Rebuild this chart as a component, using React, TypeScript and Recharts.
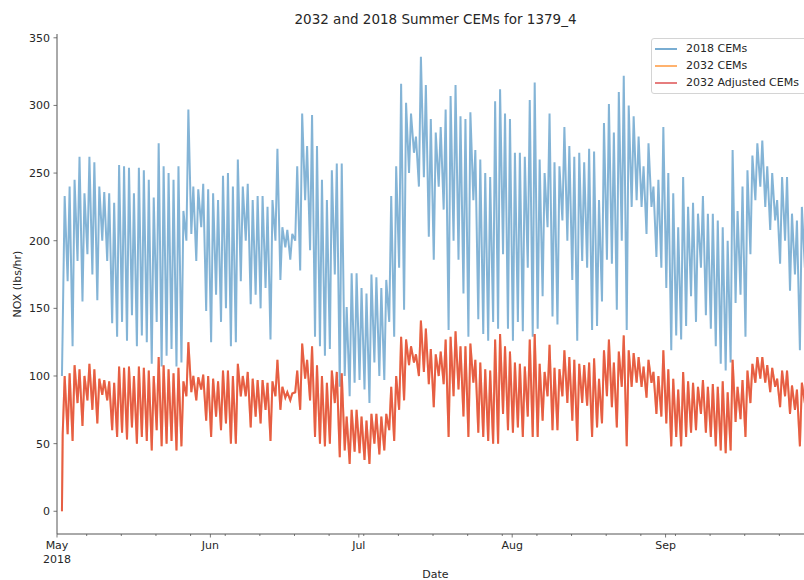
import { LineChart, Line, XAxis, YAxis, Legend } from "recharts"

// day offsets from May 1 2018
const monthTicks = [0, 31, 61, 92, 123]
const monthLabels = ["May\n2018", "Jun", "Jul", "Aug", "Sep"]
const weekTicks = [6, 13, 20, 27, 34, 41, 48, 55, 62, 69, 76, 83, 90, 97, 104, 111, 118, 125, 132, 139, 146]
const yTicks = [0, 50, 100, 150, 200, 250, 300, 350]
const seriesNames = ["2018 CEMs", "2032 CEMs", "2032 Adjusted CEMs"]

const firstDay = 1
const start2018 = 100
const start2032 = 0

// daily peaks / troughs, May 2 .. Sep 30
const high2018 = [
  233, 240, 245, 262, 235, 262, 258, 240, 236, 235,
  228, 256, 255, 254, 235, 254, 252, 245, 232, 272,
  255, 250, 245, 255, 222, 297, 240, 238, 242, 238,
  235, 230, 248, 250, 240, 260, 240, 242, 230, 233,
  233, 225, 230, 268, 210, 208, 205, 255, 294, 270,
  293, 270, 245, 230, 252, 257, 257, 151, 176, 176,
  165, 161, 175, 173, 165, 171, 233, 255, 316, 302,
  294, 277, 336, 315, 290, 280, 284, 297, 307, 315,
  292, 290, 295, 267, 260, 250, 247, 303, 312, 294,
  290, 265, 265, 262, 304, 317, 260, 250, 294, 258,
  255, 284, 270, 262, 265, 258, 268, 266, 230, 287,
  301, 280, 310, 322, 300, 292, 277, 255, 272, 240,
  245, 284, 250, 235, 210, 247, 225, 228, 220, 233,
  220, 220, 215, 210, 200, 267, 222, 240, 252, 263,
  272, 274, 255, 250, 230, 247, 247, 220, 215, 225,
  210, 205,
]
const low2018 = [
  135, 170, 122, 185, 155, 190, 175, 156, 200, 185,
  139, 129, 140, 126, 145, 122, 130, 125, 109, 140,
  107, 115, 120, 107, 110, 200, 205, 185, 210, 148,
  125, 160, 140, 150, 122, 125, 170, 200, 153, 160,
  150, 165, 127, 200, 171, 195, 186, 200, 178, 230,
  193, 129, 122, 115, 120, 175, 92, 100, 85, 95,
  97, 90, 80, 110, 100, 97, 140, 129, 180, 149,
  250, 265, 240, 247, 203, 186, 240, 223, 134, 200,
  186, 161, 129, 230, 142, 131, 126, 140, 135, 190,
  135, 126, 140, 133, 180, 129, 135, 159, 210, 144,
  138, 215, 200, 171, 126, 185, 180, 134, 137, 155,
  186, 183, 149, 200, 134, 225, 230, 225, 205, 225,
  188, 180, 165, 119, 130, 127, 137, 159, 140, 180,
  145, 135, 122, 109, 104, 110, 154, 160, 129, 190,
  230, 240, 225, 208, 215, 183, 200, 163, 175, 119,
  180, 150,
]
const high2032 = [
  100, 102, 108, 105, 100, 109, 105, 98, 97, 96,
  95, 107, 106, 107, 100, 107, 106, 104, 100, 114,
  108, 105, 102, 106, 96, 125, 100, 99, 101, 100,
  98, 96, 104, 104, 100, 109, 100, 103, 98, 97,
  97, 95, 96, 112, 92, 88, 87, 104, 124, 112,
  122, 108, 100, 95, 104, 103, 102, 70, 75, 75,
  70, 67, 72, 72, 70, 72, 92, 100, 129, 127,
  122, 116, 141, 135, 120, 116, 118, 127, 129, 133,
  122, 122, 124, 112, 110, 105, 104, 127, 131, 122,
  118, 110, 109, 107, 127, 131, 109, 103, 123, 106,
  105, 119, 114, 112, 109, 108, 110, 113, 98, 119,
  127, 110, 118, 130, 119, 117, 114, 107, 112, 103,
  100, 119, 105, 98, 90, 103, 96, 95, 92, 97,
  92, 94, 92, 96, 88, 112, 92, 97, 104, 109,
  114, 114, 108, 106, 98, 104, 104, 93, 90, 95,
  90, 88,
]
const low2032 = [
  57, 57, 52, 80, 63, 82, 75, 65, 86, 82,
  60, 55, 58, 53, 62, 50, 55, 52, 45, 60,
  48, 50, 52, 45, 48, 85, 88, 82, 90, 67,
  55, 70, 60, 65, 50, 50, 85, 85, 62, 70,
  65, 75, 52, 85, 75, 84, 82, 88, 75, 98,
  82, 55, 50, 48, 50, 80, 40, 45, 35, 44,
  43, 38, 35, 50, 42, 45, 60, 52, 75, 82,
  108, 110, 100, 103, 94, 77, 100, 94, 55, 85,
  90, 70, 55, 95, 58, 55, 52, 50, 50, 72,
  60, 58, 62, 55, 70, 55, 55, 67, 85, 60,
  60, 85, 80, 67, 52, 80, 78, 55, 62, 65,
  85, 77, 62, 92, 48, 92, 95, 92, 84, 95,
  72, 70, 65, 48, 55, 48, 55, 58, 60, 72,
  58, 55, 48, 45, 43, 45, 66, 68, 55, 80,
  95, 98, 95, 88, 92, 77, 85, 72, 75, 48,
  80, 65,
]

const data = [{ t: firstDay, cems2018: start2018, cems2032: start2032, adj2032: start2032 }]
high2018.forEach((h, i) => {
  data.push({ t: firstDay + i + 0.15, cems2018: low2018[i], cems2032: low2032[i], adj2032: low2032[i] })
  data.push({ t: firstDay + i + 0.55, cems2018: h, cems2032: high2032[i], adj2032: high2032[i] })
})

const FONT = "'DejaVu Sans', sans-serif"
const TEXT = "#262626"
const SPINE = "#555"

const DateTick = (props: any) => {
  const { x, y, payload } = props
  const idx = monthTicks.indexOf(payload.value)
  if (idx < 0) {
    return <line x1={x} x2={x} y1={y} y2={y + 2} stroke={SPINE} strokeWidth={0.8} />
  }
  const lines = monthLabels[idx].split("\n")
  return (
    <g>
      <line x1={x} x2={x} y1={y} y2={y + 3.5} stroke={SPINE} strokeWidth={0.8} />
      <text x={x} y={y + 15} textAnchor="middle" fontSize={11} fill={TEXT} fontFamily={FONT}>
        {lines.map((l, i) => (
          <tspan key={i} x={x} dy={i === 0 ? 0 : 13.5}>{l}</tspan>
        ))}
      </text>
    </g>
  )
}

const YTitle = (props: any) => {
  const vb = props.viewBox
  const cx = vb.x + 5.5
  const cy = vb.y + vb.height / 2
  return (
    <text transform={`translate(${cx},${cy}) rotate(-90)`} textAnchor="middle" dy="0.35em"
      fontSize={11} fill={TEXT} fontFamily={FONT}>
      NOX (lbs/hr)
    </text>
  )
}

const LegendBox = (props: any) => {
  const items = [...(props.payload || [])].sort(
    (a: any, b: any) => seriesNames.indexOf(a.value) - seriesNames.indexOf(b.value)
  )
  return (
    <div style={{
      border: "1px solid #d4d4d4", borderRadius: 3, background: "rgba(255,255,255,0.8)",
      width: 158, paddingTop: 1, paddingBottom: 2, fontFamily: FONT, fontSize: 11, color: TEXT,
    }}>
      {items.map((it: any) => (
        <div key={it.value} style={{ height: 17, lineHeight: "17px", display: "flex", alignItems: "center", whiteSpace: "nowrap" }}>
          <span style={{ display: "inline-block", width: 22, marginLeft: 3, marginRight: 9, borderTop: `2px solid ${it.color}`, opacity: 0.6 }} />
          <span>{it.value}</span>
        </div>
      ))}
    </div>
  )
}

export default function App() {
  return (
    <div style={{ position: "absolute", left: 0, top: 0, width: 804, height: 580, overflow: "hidden", background: "#fff" }}>
      <div style={{
        position: "absolute", left: 57, top: 11, width: 757, textAlign: "center",
        fontFamily: FONT, fontSize: 13.5, lineHeight: "16px", color: TEXT,
      }}>
        2032 and 2018 Summer CEMs for 1379_4
      </div>
      <LineChart width={860} height={580} data={data} margin={{ top: 34, right: 46, bottom: 0, left: 12 }}>
        <XAxis
          dataKey="t" type="number" domain={[0, 153]} allowDataOverflow
          ticks={[...monthTicks, ...weekTicks].sort((a, b) => a - b)} interval={0}
          tick={<DateTick />} tickLine={false} tickSize={0} tickMargin={0}
          axisLine={{ stroke: SPINE, strokeWidth: 1 }} height={46}
          label={{ value: "Date", position: "insideBottom", offset: 2, fontSize: 11, fill: TEXT, fontFamily: FONT }}
        />
        <XAxis xAxisId="top" orientation="top" dataKey="t" type="number" domain={[0, 153]}
          height={0} tick={false} tickLine={false} axisLine={{ stroke: SPINE, strokeWidth: 1 }} />
        <YAxis
          type="number" domain={[-16.8, 352.8]} allowDataOverflow ticks={yTicks} interval={0}
          width={45} tickSize={3.5} tickMargin={3.5}
          tickLine={{ stroke: SPINE, strokeWidth: 0.8 }} axisLine={{ stroke: SPINE, strokeWidth: 1 }}
          tick={{ fontSize: 11, fill: TEXT, fontFamily: FONT }}
          label={<YTitle />}
        />
        <Legend layout="vertical" align="center" verticalAlign="middle"
          wrapperStyle={{ top: 38, left: 651, width: "auto" }} content={<LegendBox />} />
        <Line dataKey="cems2018" name="2018 CEMs" type="linear" dot={false} isAnimationActive={false}
          stroke="#1f77b4" strokeOpacity={0.55} strokeWidth={2} />
        <Line dataKey="cems2032" name="2032 CEMs" type="linear" dot={false} isAnimationActive={false}
          stroke="#ff7f0e" strokeOpacity={0.6} strokeWidth={2} />
        <Line dataKey="adj2032" name="2032 Adjusted CEMs" type="linear" dot={false} isAnimationActive={false}
          stroke="#d62728" strokeOpacity={0.6} strokeWidth={2} />
      </LineChart>
    </div>
  )
}
